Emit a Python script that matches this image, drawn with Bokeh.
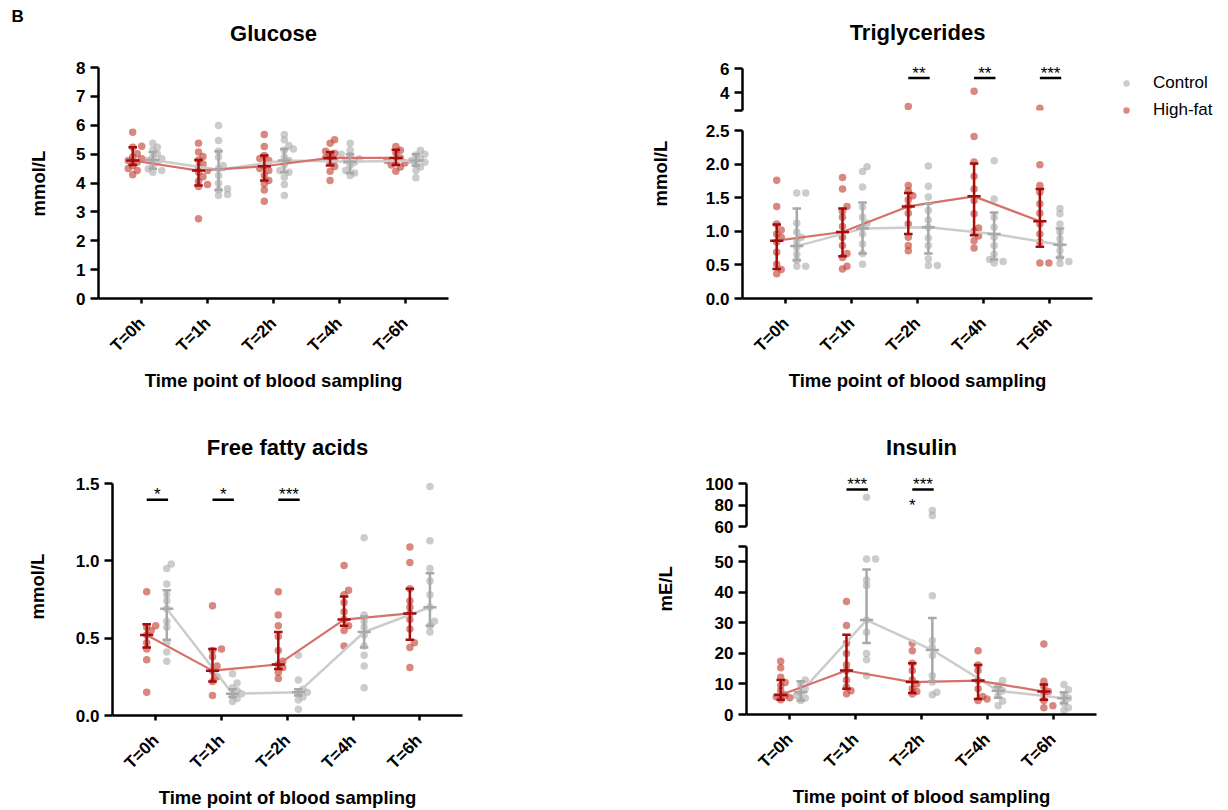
import math
from bokeh.plotting import figure
from bokeh.models import Range1d, FixedTicker, NumeralTickFormatter, Legend, LegendItem, Title
from bokeh.layouts import row, column
from bokeh.core.properties import value
from bokeh.embed import file_html
from bokeh.resources import INLINE

# ------------------------------------------------------------------ data
TIMES = ["T=0h", "T=1h", "T=2h", "T=4h", "T=6h"]

# Glucose (mmol/L)
GLU_HF = [
    [5.76, 5.27, 5.24, 5.01, 4.90, 4.84, 4.78, 4.72, 4.61, 4.50, 4.43, 4.29],
    [5.38, 5.07, 4.92, 4.80, 4.66, 4.55, 4.43, 4.37, 4.22, 4.06, 3.95, 3.88, 2.76],
    [5.68, 5.26, 4.95, 4.85, 4.78, 4.61, 4.50, 4.43, 4.26, 4.09, 3.97, 3.76, 3.37],
    [5.50, 5.38, 5.10, 5.03, 4.95, 4.87, 4.80, 4.72, 4.57, 4.41, 4.09],
    [5.26, 5.13, 5.05, 4.87, 4.78, 4.72, 4.69, 4.62, 4.55, 4.41],
]
GLU_CT = [
    [5.38, 5.24, 5.13, 5.01, 4.90, 4.84, 4.78, 4.72, 4.61, 4.49, 4.43, 4.37],
    [5.99, 5.47, 5.10, 4.89, 4.61, 4.50, 4.26, 3.99, 3.80, 3.76, 3.60, 3.57],
    [5.68, 5.50, 5.30, 5.18, 5.13, 4.89, 4.78, 4.64, 4.43, 4.37, 4.20, 3.95, 3.57],
    [5.38, 5.13, 5.00, 4.95, 4.84, 4.78, 4.72, 4.61, 4.43, 4.35, 4.26],
    [5.13, 5.00, 4.97, 4.84, 4.78, 4.72, 4.66, 4.55, 4.43, 4.18],
]
GLU_HF_MID = [4.78, 4.43, 4.58, 4.87, 4.87]
GLU_HF_LO = [4.62, 3.91, 4.09, 4.61, 4.62]
GLU_HF_HI = [5.24, 4.80, 4.95, 5.07, 5.15]
GLU_CT_MID = [4.80, 4.46, 4.78, 4.74, 4.78]
GLU_CT_LO = [4.49, 3.76, 4.37, 4.35, 4.60]
GLU_CT_HI = [5.07, 5.10, 5.18, 5.00, 5.00]

# Triglycerides (mmol/L)
TG_HF = [
    [1.76, 1.37, 1.11, 1.02, 0.96, 0.91, 0.84, 0.69, 0.51, 0.43, 0.37],
    [1.80, 1.63, 1.37, 1.30, 1.21, 1.07, 0.91, 0.79, 0.67, 0.61, 0.48, 0.44],
    [2.83, 1.68, 1.60, 1.53, 1.47, 1.37, 1.27, 1.11, 0.91, 0.79, 0.71],
    [4.11, 2.41, 2.03, 1.82, 1.63, 1.46, 1.26, 1.05, 1.00, 0.93, 0.86, 0.75],
    [2.69, 1.99, 1.68, 1.58, 1.41, 1.27, 1.11, 0.96, 0.84, 0.53, 0.53],
]
TG_CT = [
    [1.57, 1.57, 1.12, 0.99, 0.91, 0.84, 0.76, 0.66, 0.57, 0.48, 0.48],
    [1.96, 1.89, 1.66, 1.36, 1.21, 1.12, 1.06, 0.96, 0.81, 0.67, 0.51],
    [1.97, 1.67, 1.51, 1.31, 1.17, 1.06, 0.90, 0.79, 0.59, 0.49, 0.49],
    [2.05, 1.48, 1.21, 1.06, 0.91, 0.79, 0.66, 0.58, 0.55, 0.53],
    [1.34, 1.26, 1.11, 0.99, 0.89, 0.80, 0.71, 0.61, 0.55, 0.52],
]
TG_HF_MID = [0.86, 0.99, 1.37, 1.52, 1.15]
TG_HF_LO = [0.44, 0.63, 0.96, 0.94, 0.77]
TG_HF_HI = [1.10, 1.34, 1.57, 2.01, 1.63]
TG_CT_MID = [0.78, 1.04, 1.06, 0.96, 0.80]
TG_CT_LO = [0.57, 0.67, 0.67, 0.58, 0.61]
TG_CT_HI = [1.34, 1.43, 1.41, 1.28, 1.04]
TG_SIG = {"T=2h": "**", "T=4h": "**", "T=6h": "***"}

# Free fatty acids (mmol/L)
FFA_HF = [
    [0.80, 0.58, 0.57, 0.55, 0.52, 0.47, 0.43, 0.36, 0.15],
    [0.71, 0.43, 0.42, 0.38, 0.32, 0.29, 0.25, 0.22, 0.13],
    [0.80, 0.65, 0.58, 0.51, 0.42, 0.35, 0.33, 0.31, 0.28, 0.24],
    [0.97, 0.81, 0.78, 0.73, 0.67, 0.62, 0.58, 0.55, 0.45],
    [1.09, 0.99, 0.82, 0.74, 0.70, 0.66, 0.62, 0.56, 0.47, 0.44, 0.31],
]
FFA_CT = [
    [0.98, 0.95, 0.85, 0.78, 0.74, 0.69, 0.61, 0.57, 0.47, 0.41, 0.35],
    [0.27, 0.21, 0.18, 0.16, 0.14, 0.13, 0.11, 0.09],
    [0.39, 0.23, 0.17, 0.15, 0.14, 0.12, 0.10, 0.04],
    [1.15, 0.65, 0.61, 0.57, 0.52, 0.45, 0.39, 0.32, 0.18],
    [1.48, 1.13, 0.95, 0.87, 0.78, 0.70, 0.61, 0.58, 0.54],
]
FFA_HF_MID = [0.52, 0.29, 0.33, 0.62, 0.66]
FFA_HF_LO = [0.44, 0.22, 0.30, 0.58, 0.49]
FFA_HF_HI = [0.59, 0.43, 0.54, 0.77, 0.82]
FFA_CT_MID = [0.69, 0.14, 0.15, 0.54, 0.70]
FFA_CT_LO = [0.49, 0.12, 0.13, 0.44, 0.58]
FFA_CT_HI = [0.81, 0.17, 0.17, 0.64, 0.92]
FFA_SIG = {"T=0h": "*", "T=1h": "*", "T=2h": "***"}

# Insulin (mE/L)
INS_HF = [
    [17.4, 15.3, 12.2, 10.5, 9.5, 7.8, 6.4, 5.8, 5.5, 4.8],
    [37.0, 29.1, 23.3, 20.0, 16.3, 14.4, 11.3, 9.0, 7.8, 6.8],
    [23.3, 20.9, 16.8, 14.4, 11.3, 10.0, 8.4, 7.5, 6.7],
    [20.9, 16.2, 14.4, 11.1, 8.4, 5.9, 5.1, 4.6],
    [23.1, 10.9, 9.2, 7.5, 6.5, 4.6, 2.9, 2.2],
]
INS_CT = [
    [11.3, 9.8, 8.4, 7.3, 6.2, 5.4, 4.6],
    [87.3, 50.9, 50.9, 44.0, 42.2, 30.9, 26.9, 20.0, 17.9, 12.7],
    [74.9, 70.2, 38.9, 24.2, 22.0, 19.3, 12.7, 10.6, 7.3, 6.5],
    [11.1, 9.5, 7.8, 6.2, 4.4, 2.9],
    [9.8, 8.1, 6.5, 5.3, 3.7, 2.2, 1.3],
]
INS_HF_MID = [6.4, 14.4, 10.6, 11.1, 7.5]
INS_HF_LO = [4.8, 8.4, 7.0, 5.1, 4.8]
INS_HF_HI = [11.3, 26.1, 16.8, 16.2, 9.8]
INS_CT_MID = [7.3, 30.9, 21.1, 7.8, 5.3]
INS_CT_LO = [4.6, 23.4, 10.9, 5.5, 3.7]
INS_CT_HI = [10.9, 47.5, 31.6, 9.0, 7.3]
INS_SIG = {"T=1h": "***", "T=2h": "***"}
INS_HF_SIG = {"T=2h": "*"}
INS_HF_SIG_LEVEL = 80

# ------------------------------------------------------------------ style
FONT = "Liberation Sans"
HF_DOT, HF_DOT_ALPHA = "#c0392b", 0.6
CT_DOT, CT_DOT_ALPHA = "#aaaaaa", 0.6
HF_BAR, CT_BAR = "#a50d0d", "#a8a8a8"
HF_LINE, CT_LINE = "#d6706a", "#cccccc"
HF_DX, CT_DX = -0.14, 0.165
CAP, MED = 0.065, 0.10
X0, X1 = -0.66, 4.66
FRAME_W = 350
PX_PER_X = FRAME_W / (X1 - X0)


def make_fig(frame_h, yr, borders, xaxis=True, ybounds=None):
    l, r, t, b = borders
    kw = {} if xaxis else {"x_axis_location": None}
    p = figure(frame_width=FRAME_W, frame_height=frame_h,
               x_range=Range1d(X0, X1), y_range=Range1d(*yr),
               min_border_left=l, min_border_right=r, min_border_top=t, min_border_bottom=b,
               title_location=None,
               output_backend="svg", toolbar_location=None, **kw)
    p.grid.visible = False
    p.outline_line_color = None
    axes = list(p.yaxis) + (list(p.xaxis) if xaxis else [])
    for ax in axes:
        ax.axis_line_width = 2.5
        ax.axis_line_color = "black"
        ax.major_tick_line_width = 2.5
        ax.major_tick_line_color = "black"
        ax.major_tick_in = 0
        ax.minor_tick_line_color = None
        ax.major_label_text_font = FONT
        ax.major_label_text_font_style = "bold"
        ax.major_label_text_font_size = "17px"
        ax.major_label_text_color = "black"
    for ax in p.yaxis:
        ax.major_tick_out = 8
        ax.major_label_standoff = 5
        if ybounds is not None:
            ax.bounds = ybounds
    if xaxis:
        ax = p.xaxis[0]
        ax.major_tick_out = 5
        ax.ticker = FixedTicker(ticks=list(range(len(TIMES))))
        ax.major_label_overrides = {i: t for i, t in enumerate(TIMES)}
        ax.major_label_orientation = math.pi / 4
        ax.major_label_standoff = 17
        ax.axis_label = "Time point of blood sampling"
        ax.axis_label_text_font = FONT
        ax.axis_label_text_font_style = "bold"
        ax.axis_label_text_font_size = "18.5px"
        ax.axis_label_text_color = "black"
        ax.axis_label_standoff = 5
    return p


def add_title(p, text, side, size, standoff, align="center", offset=0):
    p.add_layout(Title(text=text, align=align, offset=offset, standoff=standoff,
                       text_font=FONT, text_font_size=size, text_font_style="bold",
                       text_color="black"), side)


def swarm_offsets(vals, ppu, min_d=5.0, step=4.5):
    placed = []
    res = [0.0] * len(vals)
    for i in sorted(range(len(vals)), key=lambda k: vals[k]):
        y = vals[i] * ppu
        x = 0.0
        for k in (0, 1, -1, 2, -2, 3, -3):
            x = k * step
            if all((x - px) ** 2 + (y - py) ** 2 >= min_d ** 2 for px, py in placed):
                break
        placed.append((x, y))
        res[i] = x / PX_PER_X
    return res


def add_points(p, groups, dx, color, alpha, ppu, keep=lambda v: True):
    xs, ys = [], []
    for i, vals in enumerate(groups):
        for v, o in zip(vals, swarm_offsets(vals, ppu)):
            if keep(v):
                xs.append(i + dx + o)
                ys.append(v)
    return p.scatter(x=xs, y=ys, size=7.5, fill_color=color, fill_alpha=alpha, line_color=None)


def add_line(p, mid, dx, color, width):
    xs = [i + dx for i in range(len(mid))]
    p.line(xs, mid, line_color=color, line_width=width)


def add_bars(p, mid, lo, hi, dx, color):
    xs = [i + dx for i in range(len(mid))]
    x0 = xs + [x - CAP for x in xs] * 2 + [x - MED for x in xs]
    x1 = xs + [x + CAP for x in xs] * 2 + [x + MED for x in xs]
    y0 = lo + lo + hi + mid
    y1 = hi + lo + hi + mid
    p.segment(x0, y0, x1, y1, line_color=color, line_width=2.5)


def add_stars(p, xs, levels, texts, yoff):
    p.text(xs, levels, text=texts, text_align="center", text_baseline="middle",
           y_offset=yoff, text_font=value(FONT), text_font_size="17px", text_color="black")


def add_sig(p, marks, level):
    idx = [TIMES.index(t) for t in marks]
    p.segment([i + HF_DX for i in idx], [level] * len(idx),
              [i + CT_DX + 0.02 for i in idx], [level] * len(idx),
              line_color="black", line_width=2.5)
    add_stars(p, [i + (HF_DX + CT_DX + 0.02) / 2 for i in idx], [level] * len(idx),
              list(marks.values()), -5)


def draw_all(p, hf, ct, hf_mid, hf_lo, hf_hi, ct_mid, ct_lo, ct_hi, ppu, keep=lambda v: True):
    add_points(p, ct, CT_DX, CT_DOT, CT_DOT_ALPHA, ppu, keep)
    add_points(p, hf, HF_DX, HF_DOT, HF_DOT_ALPHA, ppu, keep)
    add_line(p, ct_mid, CT_DX, CT_LINE, 2.5)
    add_line(p, hf_mid, HF_DX, HF_LINE, 2.2)
    add_bars(p, ct_mid, ct_lo, ct_hi, CT_DX, CT_BAR)
    add_bars(p, hf_mid, hf_lo, hf_hi, HF_DX, HF_BAR)


# ------------------------------------------------------------------ Glucose
GLU_PPU = 231 / 8
glu = make_fig(260, (0, 8 + 29 / GLU_PPU), (97, 168, 38, 122), ybounds=(0, 8))
glu.yaxis.ticker = FixedTicker(ticks=list(range(0, 9)))
draw_all(glu, GLU_HF, GLU_CT, GLU_HF_MID, GLU_HF_LO, GLU_HF_HI,
         GLU_CT_MID, GLU_CT_LO, GLU_CT_HI, GLU_PPU)
add_title(glu, "Glucose", "above", "22px", -14)
add_title(glu, "B", "above", "17px", 0, align="left", offset=-87)
add_title(glu, "mmol/L", "left", "18.5px", 50, align="left", offset=82)

# ------------------------------------------------------------------ Triglycerides
TG_BREAK = 2.5
TG_TOP_PPU = 46 / 3.85
tg_top = make_fig(50, (TG_BREAK, TG_BREAK + 50 / TG_TOP_PPU), (126, 132, 60, 12),
                  xaxis=False, ybounds=(TG_BREAK, 6))
tg_top.yaxis.ticker = FixedTicker(ticks=[TG_BREAK, 4, 6])
tg_top.yaxis.major_label_overrides = {TG_BREAK: ""}
r_ct = add_points(tg_top, TG_CT, CT_DX, CT_DOT, CT_DOT_ALPHA, 168 / 2.5)
r_hf = add_points(tg_top, TG_HF, HF_DX, HF_DOT, HF_DOT_ALPHA, 168 / 2.5, lambda v: v > TG_BREAK)
add_sig(tg_top, TG_SIG, 5.22)
add_title(tg_top, "Triglycerides", "above", "22px", 31)
legend = Legend(items=[LegendItem(label=value("Control"), renderers=[r_ct]),
                       LegendItem(label=value("High-fat"), renderers=[r_hf])],
                location=(26, -10), border_line_color=None, background_fill_alpha=0,
                padding=0, margin=0, spacing=7, glyph_width=16, glyph_height=16,
                label_height=20, label_standoff=19, label_text_font=FONT,
                label_text_font_size="17px", label_text_color="black")
tg_top.add_layout(legend, "right")

tg_bot = make_fig(168, (0, TG_BREAK), (126, 132, 8, 122))
tg_bot.yaxis.ticker = FixedTicker(ticks=[0, 0.5, 1.0, 1.5, 2.0, 2.5])
tg_bot.yaxis.formatter = NumeralTickFormatter(format="0.0")
draw_all(tg_bot, TG_HF, TG_CT, TG_HF_MID, TG_HF_LO, TG_HF_HI,
         TG_CT_MID, TG_CT_LO, TG_CT_HI, 168 / 2.5, lambda v: v <= TG_BREAK)
add_title(tg_bot, "mmol/L", "left", "18.5px", 63, align="left", offset=92)

# ------------------------------------------------------------------ Free fatty acids
FFA_PPU = 232 / 1.5
ffa = make_fig(245, (0, 1.5 + 13 / FFA_PPU), (110, 154, 50, 94), ybounds=(0, 1.5))
ffa.yaxis.ticker = FixedTicker(ticks=[0, 0.5, 1.0, 1.5])
ffa.yaxis.formatter = NumeralTickFormatter(format="0.0")
draw_all(ffa, FFA_HF, FFA_CT, FFA_HF_MID, FFA_HF_LO, FFA_HF_HI,
         FFA_CT_MID, FFA_CT_LO, FFA_CT_HI, FFA_PPU)
add_sig(ffa, FFA_SIG, 1.395)
add_title(ffa, "Free fatty acids", "above", "22px", 21)
add_title(ffa, "mmol/L", "left", "18.5px", 49, align="left", offset=96)

# ------------------------------------------------------------------ Insulin
INS_BREAK = 55
INS_TOP_PPU = 43 / 40
ins_top = make_fig(56, (60, 100 + 13 / INS_TOP_PPU), (128, 132, 50, 10),
                   xaxis=False, ybounds=(60, 100))
ins_top.yaxis.ticker = FixedTicker(ticks=[60, 80, 100])
add_points(ins_top, INS_CT, CT_DX, CT_DOT, CT_DOT_ALPHA, 168 / 55, lambda v: v > INS_BREAK)
add_points(ins_top, INS_HF, HF_DX, HF_DOT, HF_DOT_ALPHA, 168 / 55, lambda v: v > INS_BREAK)
add_sig(ins_top, INS_SIG, 94.4)
add_stars(ins_top, [TIMES.index(t) + HF_DX for t in INS_HF_SIG],
          [INS_HF_SIG_LEVEL] * len(INS_HF_SIG), list(INS_HF_SIG.values()), 0)
add_title(ins_top, "Insulin", "above", "22px", 21)

ins_bot = make_fig(168, (0, INS_BREAK), (128, 132, 10, 95))
ins_bot.yaxis.ticker = FixedTicker(ticks=[0, 10, 20, 30, 40, 50, INS_BREAK])
ins_bot.yaxis.major_label_overrides = {INS_BREAK: ""}
draw_all(ins_bot, INS_HF, INS_CT, INS_HF_MID, INS_HF_LO, INS_HF_HI,
         INS_CT_MID, INS_CT_LO, INS_CT_HI, 168 / 55, lambda v: v <= INS_BREAK)
add_title(ins_bot, "mE/L", "left", "18.5px", 72, align="left", offset=103)

layout = column(row(glu, column(tg_top, tg_bot)),
                row(ffa, column(ins_top, ins_bot)))

open("out.html", "w").write(file_html(layout, INLINE, title="Blood sampling"))
